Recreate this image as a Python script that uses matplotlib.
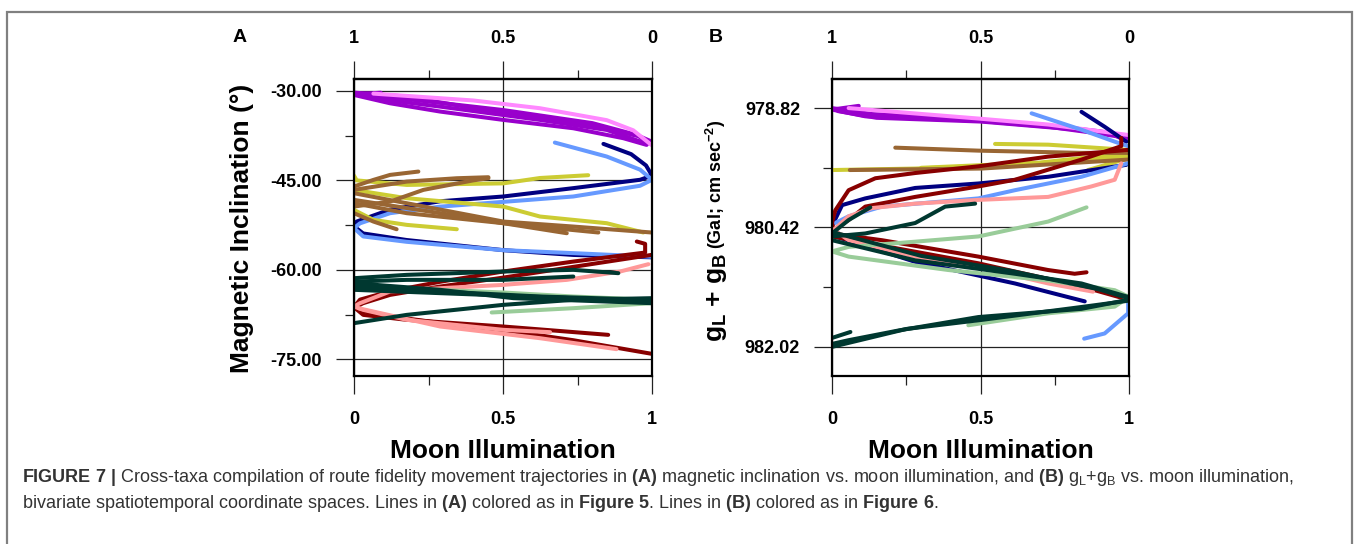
import matplotlib
matplotlib.use('Agg')
import matplotlib.pyplot as plt
from matplotlib.patches import Rectangle
import numpy as np

plt.rcParams['font.family'] = 'Liberation Sans'
plt.rcParams['font.weight'] = 'bold'
plt.rcParams['mathtext.fontset'] = 'custom'
plt.rcParams['mathtext.rm'] = 'Liberation Sans'
plt.rcParams['mathtext.bf'] = 'Liberation Sans:bold'
plt.rcParams['mathtext.it'] = 'Liberation Sans:italic'

# Track colours
PURPLE = '#9900cc'
PINK = '#ff88ff'
NAVY = '#000080'
BLUE = '#6699ff'
OLIVE = '#cccc33'
BROWN = '#996633'
DKRED = '#880000'
SALMON = '#ff9999'
DKGREEN = '#003830'
LTGREEN = '#99cc99'

# Panel A: (moon illumination, magnetic inclination) tracks
a_purple = [
    [(0, -30.67), (0.121, -32.07), (0.289, -33.46), (0.501, -34.86), (0.736, -36.26), (0.904, -37.93), (0.982, -39.05)],
    [(0, -30.28), (0.177, -30.95), (0.501, -33.74), (0.792, -35.70), (0.960, -37.65), (0.999, -38.49)],
    [(0, -30.39), (0.065, -31.23), (0.289, -32.63), (0.624, -34.86), (0.848, -36.54), (0.971, -38.66)],
    [(0.09, -30.3), (0.02, -30.5), (0.20, -31.5), (0.50, -33.2), (0.80, -35.4), (0.95, -37.4), (0.99, -38.8)],
]
a_pink = [
    [(0.065, -30.45), (0.400, -31.6), (0.624, -32.9), (0.848, -34.9), (0.937, -36.6), (0.999, -39.1)],
]
a_navy = [
    [(0.837, -38.88), (0.93, -40.6), (0.98, -42.5), (1.0, -44.2), (0.96, -44.9), (0.736, -46.3), (0.501, -47.7),
     (0.289, -48.5), (0.121, -49.9), (0.009, -51.9), (0.0, -52.7), (0.031, -53.9), (0.177, -55.0), (0.501, -56.7),
     (0.736, -57.5), (0.999, -57.9)],
]
a_blue = [
    [(0.674, -38.66), (0.848, -41.0), (0.960, -43.2), (1.0, -44.9), (0.960, -45.9), (0.736, -47.7), (0.501, -48.6),
     (0.289, -49.4), (0.121, -50.5), (0.02, -52.2), (0.0, -53.0), (0.031, -54.4), (0.177, -55.3), (0.501, -56.7),
     (0.736, -57.2), (0.999, -57.8)],
]
a_olive = [
    [(0.0, -44.2), (0.009, -45.0), (0.177, -45.76), (0.501, -45.5), (0.624, -44.6), (0.786, -44.13)],
    [(0.0, -46.6), (0.177, -47.99), (0.501, -49.39), (0.624, -51.06), (0.848, -52.18), (0.971, -53.74)],
    [(0.0, -49.95), (0.065, -51.62), (0.177, -52.46), (0.345, -53.19)],
]
a_brown = [
    [(0.0, -46.03), (0.065, -44.92), (0.121, -44.08), (0.216, -43.52)],
    [(0.0, -46.59), (0.177, -45.20), (0.345, -44.64), (0.451, -44.47)],
    [(0.0, -47.15), (0.177, -48.83), (0.501, -51.90), (0.736, -52.74), (0.999, -53.74)],
    [(0.0, -48.27), (0.289, -50.50), (0.501, -52.18), (0.714, -53.86)],
    [(0.0, -48.83), (0.177, -50.50), (0.501, -52.18), (0.820, -53.74)],
    [(0.0, -50.50), (0.065, -51.90), (0.143, -53.19)],
    [(0.0, -49.39), (0.121, -48.55), (0.233, -46.59), (0.400, -45.0), (0.451, -44.64)],
]
a_dkred = [
    [(0.949, -55.25), (0.977, -55.64), (0.977, -57.10), (0.736, -58.61), (0.501, -60.28), (0.289, -62.0), (0.121, -63.6),
     (0.02, -65.0), (0.0, -66.26), (0.031, -67.55), (0.177, -68.38), (0.501, -69.50), (0.853, -70.90)],
    [(0.999, -57.49), (0.736, -59.5), (0.501, -61.3), (0.289, -62.8), (0.121, -64.2), (0.03, -65.6), (0.0, -66.4),
     (0.065, -67.4), (0.289, -68.9), (0.501, -70.1), (0.736, -71.8), (0.999, -74.08)],
]
a_salmon = [
    [(0.988, -59.05), (0.893, -60.28), (0.714, -61.68), (0.501, -62.52), (0.289, -63.08), (0.121, -63.63),
     (0.020, -65.59), (0.0, -66.15), (0.031, -66.71), (0.177, -68.38), (0.501, -70.06), (0.658, -70.45)],
    [(0.015, -66.43), (0.289, -69.50), (0.624, -71.46), (0.881, -73.30)],
]
a_ltgreen = [
    [(0.0, -62.52), (0.289, -63.35), (0.501, -63.80), (0.736, -64.47), (0.999, -65.03)],
    [(0.462, -67.15), (0.736, -66.43), (0.999, -65.59)],
]
a_dkgreen = [
    [(0.0, -61.40), (0.177, -60.84), (0.501, -60.28), (0.736, -60.0), (0.887, -60.56)],
    [(0.0, -61.96), (0.177, -61.68), (0.501, -61.68), (0.736, -61.12)],
    [(0.0, -62.80), (0.289, -63.63), (0.624, -64.47), (0.999, -65.03)],
    [(0.0, -63.35), (0.289, -63.91), (0.736, -64.75), (0.999, -65.31)],
    [(0.0, -68.94), (0.177, -67.55), (0.501, -65.87), (0.736, -65.03), (0.999, -64.75)],
    [(0.0, -62.24), (0.289, -63.35), (0.535, -64.75), (0.999, -65.59)],
]

# Panel B: (moon illumination, gL + gB) tracks
b_purple = [
    [(0.090, 978.79), (0.0, 978.84), (0.112, 978.93), (0.493, 978.99), (0.728, 979.07), (0.896, 979.16), (0.997, 979.22)],
    [(0.0, 978.82), (0.134, 978.90), (0.40, 978.95), (0.70, 979.04), (0.90, 979.13), (1.0, 979.20)],
    [(0.02, 978.86), (0.15, 978.95), (0.5, 979.0), (0.8, 979.10), (0.95, 979.18), (0.99, 979.26)],
]
b_pink = [
    [(0.056, 978.82), (0.493, 978.96), (0.728, 979.04), (0.997, 979.18)],
]
b_navy = [
    [(0.840, 978.87), (0.918, 979.07), (0.991, 979.27)],
    [(0.991, 979.58), (0.728, 979.74), (0.493, 979.83), (0.280, 979.89), (0.112, 980.03), (0.034, 980.12),
     (0.0, 980.40), (0.02, 980.55), (0.280, 980.88), (0.616, 981.17), (0.851, 981.41)],
]
b_blue = [
    [(0.672, 978.89), (0.840, 979.11), (0.952, 979.27), (0.997, 979.33)],
    [(0.997, 979.56), (0.840, 979.74), (0.616, 979.92), (0.493, 980.03), (0.168, 980.14), (0.056, 980.27), (0.011, 980.36)],
    [(0.997, 981.35), (0.997, 981.57), (0.918, 981.84), (0.849, 981.91)],
]
b_olive = [
    [(0.0, 979.65), (0.280, 979.63), (0.616, 979.58), (0.997, 979.47)],
    [(0.549, 979.30), (0.728, 979.31), (0.997, 979.38)],
    [(0.862, 979.65), (1.0, 979.49)],
    [(0.3, 979.62), (0.7, 979.55), (1.0, 979.42)],
]
b_brown = [
    [(0.213, 979.35), (0.493, 979.39), (0.840, 979.42), (0.997, 979.42)],
    [(0.06, 979.65), (0.504, 979.63), (0.997, 979.51)],
]
b_dkred = [
    [(0.997, 979.38), (0.728, 979.47), (0.493, 979.60), (0.280, 979.69), (0.146, 979.76), (0.056, 979.92),
     (0.011, 980.19), (0.0, 980.36), (0.011, 980.54)],
    [(0.974, 979.22), (0.974, 979.33), (0.840, 979.51), (0.616, 979.78), (0.493, 979.87), (0.280, 980.01),
     (0.112, 980.14), (0.056, 980.32), (0.006, 980.45), (0.0, 980.50), (0.168, 980.59), (0.493, 980.81),
     (0.728, 980.99), (0.817, 981.04), (0.857, 981.02)],
    [(0.0, 980.54), (0.493, 980.90), (0.840, 981.21), (1.0, 981.39)],
]
b_salmon = [
    [(0.974, 979.56), (0.952, 979.78), (0.873, 979.87), (0.728, 980.01), (0.493, 980.05), (0.280, 980.10),
     (0.134, 980.16), (0.056, 980.27), (0.006, 980.45), (0.056, 980.59), (0.280, 980.81), (0.493, 980.95),
     (0.728, 981.17), (0.879, 981.28)],
]
b_ltgreen = [
    [(0.857, 980.15), (0.728, 980.34), (0.493, 980.54), (0.280, 980.61), (0.056, 980.68), (0.0, 980.74),
     (0.056, 980.81), (0.392, 980.99), (0.728, 981.13), (0.952, 981.26), (1.0, 981.35), (0.952, 981.48),
     (0.728, 981.57), (0.459, 981.73)],
]
b_dkgreen = [
    [(0.129, 980.15), (0.056, 980.32), (0.0, 980.50)],
    [(0.482, 980.10), (0.381, 980.14), (0.280, 980.36), (0.112, 980.50), (0.0, 980.54)],
    [(0.0, 980.59), (0.280, 980.86), (0.616, 981.04), (0.840, 981.17), (0.997, 981.35)],
    [(0.0, 980.48), (0.3, 980.80), (0.6, 981.00), (0.9, 981.25), (1.0, 981.37)],
    [(0.997, 981.39), (0.840, 981.51), (0.493, 981.62), (0.224, 981.80), (0.056, 981.93), (0.0, 981.98)],
    [(0.0, 982.02), (0.25, 981.78), (0.5, 981.66), (0.85, 981.48), (1.0, 981.40)],
    [(0.062, 981.82), (0.0, 981.90)],
]

a_yticks = [-30.0, -45.0, -60.0, -75.0]
a_yminor = [-37.5, -52.5, -67.5]
b_yticks = [978.82, 980.42, 982.02]
b_yminor = [979.62, 981.22]

panel_a = [(PURPLE, a_purple), (PINK, a_pink), (NAVY, a_navy), (BLUE, a_blue), (OLIVE, a_olive),
           (BROWN, a_brown), (DKRED, a_dkred), (SALMON, a_salmon), (LTGREEN, a_ltgreen), (DKGREEN, a_dkgreen)]
panel_b = [(PURPLE, b_purple), (PINK, b_pink), (OLIVE, b_olive), (BROWN, b_brown), (NAVY, b_navy),
           (BLUE, b_blue), (DKRED, b_dkred), (SALMON, b_salmon), (LTGREEN, b_ltgreen), (DKGREEN, b_dkgreen)]

W, H = 1358, 544
fig = plt.figure(figsize=(W / 100, H / 100), dpi=100)

ax_a = fig.add_axes([354 / W, 1 - 376 / H, 298 / W, 297 / H])
ax_b = fig.add_axes([832 / W, 1 - 376 / H, 297 / W, 297 / H])


def draw_panel(ax, tracks_by_colour, yticks, yminor, ylim, fmt):
    for color, tracks in tracks_by_colour:
        for tr in tracks:
            arr = np.array(tr)
            ax.plot(arr[:, 0], arr[:, 1], color=color, lw=2.9, solid_capstyle='round',
                    solid_joinstyle='round', zorder=3)
    ax.set_xlim(0, 1)
    ax.set_ylim(*ylim)
    ax.set_xticks([0, 0.5, 1])
    ax.set_xticks([0.25, 0.75], minor=True)
    ax.set_xticklabels(['0', '0.5', '1'])
    ax.set_yticks(yticks)
    ax.set_yticks(yminor, minor=True)
    ax.set_yticklabels([fmt % v for v in yticks])
    ax.grid(True, which='major', color='#222222', lw=0.9, zorder=1)
    for s in ax.spines.values():
        s.set_linewidth(1.6)
        s.set_zorder(4)
    ax.tick_params(which='major', direction='out', length=13, width=0.9, labelsize=13, color='#222222')
    ax.tick_params(which='minor', direction='out', length=6.5, width=0.9, color='#222222')
    ax.tick_params(axis='y', which='major', pad=10)
    ax.tick_params(axis='x', which='major', pad=12, labelsize=13)
    # reversed illumination scale along the top
    top = ax.secondary_xaxis('top', functions=(lambda x: 1 - x, lambda x: 1 - x))
    top.set_xticks([1, 0.5, 0])
    top.set_xticks([0.75, 0.25], minor=True)
    top.set_xticklabels(['1', '0.5', '0'])
    top.tick_params(which='major', direction='out', length=13, width=0.9, labelsize=13, pad=10, color='#222222')
    top.tick_params(which='minor', direction='out', length=6.5, width=0.9, color='#222222')
    top.spines['top'].set_linewidth(1.6)
    ax.set_xlabel('Moon Illumination', fontsize=19, fontweight='bold', labelpad=8)


draw_panel(ax_a, panel_a, a_yticks, a_yminor, (-77.8, -28.0), '%.2f')
draw_panel(ax_b, panel_b, b_yticks, b_yminor, (982.41, 978.43), '%.2f')

fig.text(242 / W, 1 - 228 / H, 'Magnetic Inclination (°)', rotation=90, ha='center', va='center', fontsize=19)

# gL + gB label with smaller units part
lab1 = fig.text(722 / W, 1 - 342 / H, r'g$_\mathregular{L}$ + g$_\mathregular{B}$', rotation=90,
                rotation_mode='anchor', ha='left', va='baseline', fontsize=19)
fig.canvas.draw()
bb = lab1.get_window_extent()
fig.text(722 / W, (bb.y1 + 4) / H, r'(Gal; cm sec$^\mathregular{-2}$)', rotation=90,
         rotation_mode='anchor', ha='left', va='baseline', fontsize=13)

fig.text(240 / W, 1 - 38 / H, 'A', ha='center', va='center', fontsize=14)
fig.text(716 / W, 1 - 38 / H, 'B', ha='center', va='center', fontsize=14)

# outer frame
fig.add_artist(Rectangle((7 / W, -0.1), (1352 - 7) / W, 1.1 - 12 / H, transform=fig.transFigure,
                         fill=False, ec='#808080', lw=1.6))

line1 = (r'$\mathbf{FIGURE\ 7\ |}$ Cross-taxa compilation of route fidelity movement trajectories in '
         r'$\mathbf{(A)}$ magnetic inclination vs. moon illumination, and $\mathbf{(B)}$ '
         r'g$_\mathregular{L}$+g$_\mathregular{B}$ vs. moon illumination,')
line2 = (r'bivariate spatiotemporal coordinate spaces. Lines in $\mathbf{(A)}$ colored as in '
         r'$\mathbf{Figure\ 5}$. Lines in $\mathbf{(B)}$ colored as in $\mathbf{Figure\ 6}$.')
fig.text(22 / W, 1 - 478 / H, line1, ha='left', va='center', fontsize=13, fontweight='normal', color='#333333')
fig.text(22 / W, 1 - 504 / H, line2, ha='left', va='center', fontsize=13, fontweight='normal', color='#333333')

plt.savefig('out.png', dpi=100)
